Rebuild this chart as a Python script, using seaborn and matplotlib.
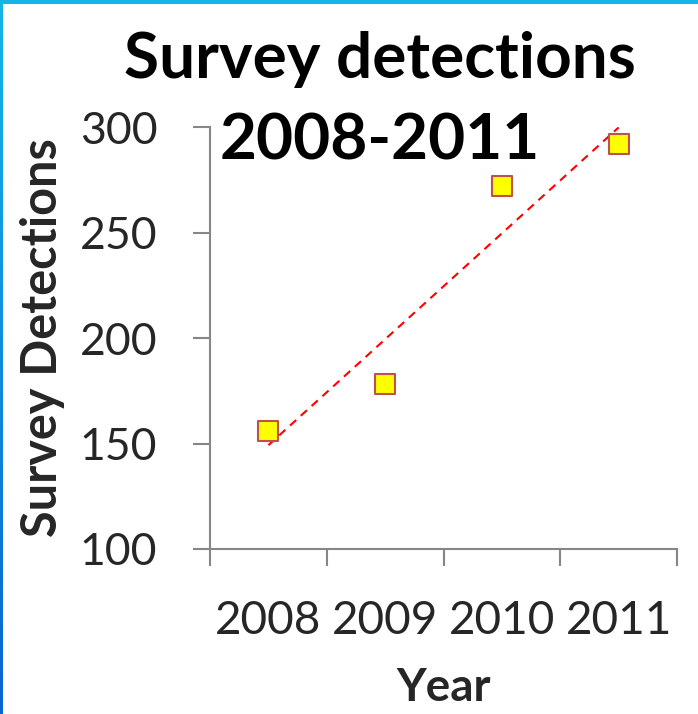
import numpy as np
import pandas as pd
import matplotlib.pyplot as plt
import seaborn as sns
from matplotlib.patches import Rectangle
from matplotlib.colors import to_rgb

# --- DATA ---
years = ['2008', '2009', '2010', '2011']
detections = [156, 178, 272, 292]
y_ticks = [100, 150, 200, 250, 300]
title_lines = ['Survey detections', '2008-2011']

df = pd.DataFrame({'year': years, 'detections': detections})
df['pos'] = np.arange(len(df))

# --- STYLE ---
sns.set_style('ticks')
plt.rcParams['font.family'] = ['Lato', 'DejaVu Sans']
axis_grey = '#868686'

fig = plt.figure(figsize=(6.98, 7.14), dpi=100)
ax = fig.add_axes([0.3009, 0.2311, 0.669, 0.591])

# linear trendline + points
sns.regplot(data=df, x='pos', y='detections', scatter=False, ci=None, ax=ax,
            line_kws=dict(color='#FF0000', lw=1.5, ls=(0, (4, 3))))
sns.scatterplot(data=df, x='pos', y='detections', marker='s', s=200,
                color='#FFFF00', edgecolor='#C0504D', linewidth=1.5, ax=ax, zorder=3)

# --- AXES ---
ax.set_xlim(-0.5, 3.5)
ax.set_ylim(100, 300)
ax.set_xticks(np.arange(-0.5, 4, 1))
ax.set_xticklabels([])
ax.set_xticks(df['pos'], minor=True)
ax.set_xticklabels(years, minor=True)
ax.tick_params(axis='x', which='major', length=12, width=1.5, color=axis_grey, direction='out')
ax.tick_params(axis='x', which='minor', length=0, pad=37, labelsize=33)
ax.set_yticks(y_ticks)
ax.tick_params(axis='y', length=12, width=1.5, color=axis_grey, direction='out', pad=26, labelsize=32)

sns.despine(ax=ax)
for side in ['left', 'bottom']:
    ax.spines[side].set_color(axis_grey)
    ax.spines[side].set_linewidth(1.5)

ax.set_xlabel('Year', fontsize=33, fontweight='bold')
ax.set_ylabel('Survey Detections', fontsize=35, fontweight='bold')
ax.xaxis.set_label_coords(0.5, -0.28)
ax.yaxis.set_label_coords(-0.31, 0.5)

# title, one text per line (second line sits inside the plot area)
fig.text(0.544, 1 - 78 / 714, title_lines[0], ha='center', va='baseline',
         fontsize=46, fontweight='bold', color='black')
fig.text(0.544, 1 - 159 / 714, title_lines[1], ha='center', va='baseline',
         fontsize=46, fontweight='bold', color='black')

# --- FRAME (blue edges) ---
fig.add_artist(Rectangle((0, 1 - 4 / 714), 1, 4 / 714, transform=fig.transFigure,
                         color='#14B4E6', lw=0))
c_top, c_bot = np.array(to_rgb('#14B4E6')), np.array(to_rgb('#0A64D2'))
n = 40
for i in range(n):
    t = i / (n - 1)
    fig.add_artist(Rectangle((0, 1 - (i + 1) / n), 3 / 698, 1 / n + 0.002,
                             transform=fig.transFigure, lw=0,
                             color=c_top * (1 - t) + c_bot * t))

fig.savefig('out.png', dpi=100)
